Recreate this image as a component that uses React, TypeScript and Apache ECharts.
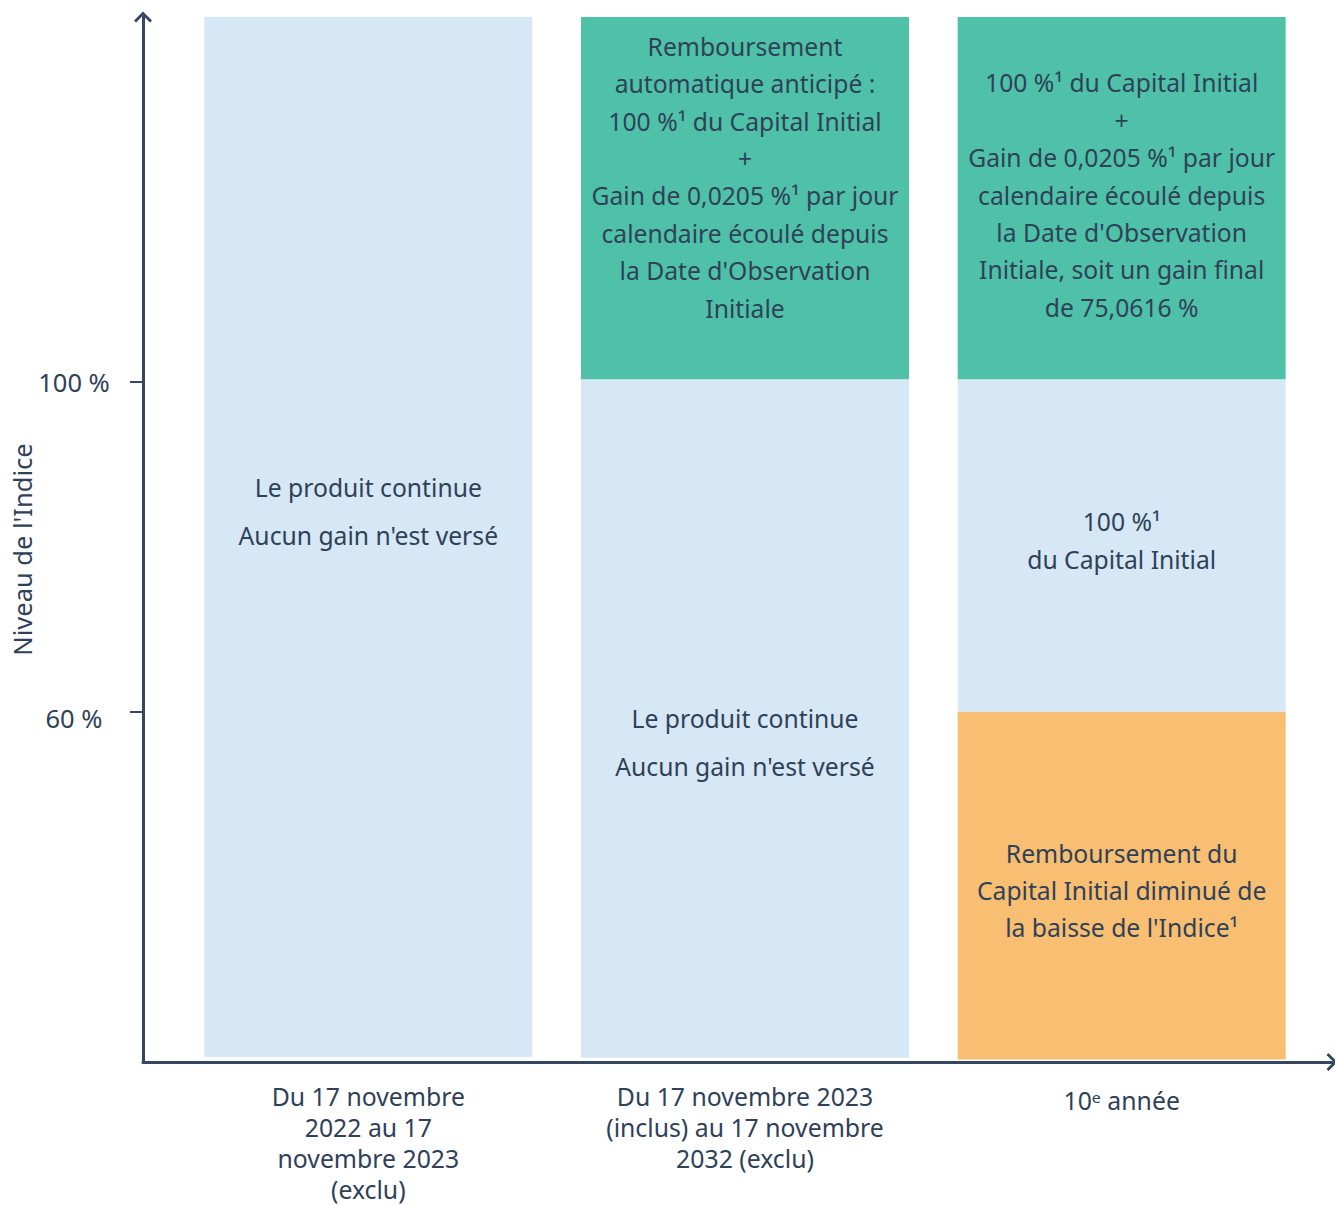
import React, { useEffect, useRef } from 'react';
import * as echarts from 'echarts';

// ---- data ----
const categories: string[] = [
  'Du 17 novembre\n2022 au 17\nnovembre 2023\n(exclu)',
  'Du 17 novembre 2023\n(inclus) au 17 novembre\n2032 (exclu)',
  '10ᵉ année',
];
const yTickValues: number[] = [60, 100];
const yTickLabels: string[] = ['60 %', '100 %'];
// stacked segment heights (index level, %)
const baseValues: (number | null)[] = [18.2, 18.1, 17.9];
const lossValues: (number | null)[] = [null, null, 42.1];
const capitalValues: (number | null)[] = [126.0, 82.2, 40.3];
const gainValues: (number | null)[] = [null, 43.9, 43.9];

const capitalLabels: string[] = [
  "Le produit continue\nAucun gain n'est versé",
  "Le produit continue\nAucun gain n'est versé",
  '100 %¹\ndu Capital Initial',
];
const gainLabels: string[] = [
  '',
  "Remboursement\nautomatique anticipé :\n100 %¹ du Capital Initial\n+\nGain de 0,0205 %¹ par jour\ncalendaire écoulé depuis\nla Date d'Observation\nInitiale",
  "100 %¹ du Capital Initial\n+\nGain de 0,0205 %¹ par jour\ncalendaire écoulé depuis\nla Date d'Observation\nInitiale, soit un gain final\nde 75,0616 %",
];
const lossLabels: string[] = [
  '',
  '',
  "Remboursement du\nCapital Initial diminué de\nla baisse de l'Indice¹",
];

// ---- style ----
const FONT = '"Noto Sans", "Open Sans", sans-serif';
const TEXT = '#2f4159';
const AXIS = '#34475e';
const BLUE = '#d6e7f5';
const GREEN = '#4fc1a8';
const ORANGE = '#f8be71';
const Y_MIN = 17.6;
const Y_MAX = 144.2;
const CHEVRON = 'path://M0,9 L9,0 L18,9 L16,11 L9,4 L2,11 Z';
const BAR_FONT = 24.7;

const capitalOffsets = [-26, 23.5, -5];
const capitalLineHeights = [48, 48, 38];
const gainOffsets = [0, -21, -3];
const lossOffsets = [0, 0, 4.5];

function labelled(values: (number | null)[], texts: string[], offsets: number[], lineHeights: number[]) {
  return values.map((v, i) => {
    if (v == null) return '-';
    if (!texts[i]) return { value: v, label: { show: false } };
    return {
      value: v,
      label: {
        show: true,
        position: 'inside',
        offset: [0, offsets[i]],
        formatter: texts[i],
        color: TEXT,
        fontFamily: FONT,
        fontSize: BAR_FONT,
        lineHeight: lineHeights[i],
        align: 'center',
      },
    };
  });
}

export default function App() {
  const ref = useRef<HTMLDivElement>(null);
  useEffect(() => {
    if (!ref.current) return;
    const chart = echarts.init(ref.current, undefined, { renderer: 'svg' });
    const option: any = {
      animation: false,
      backgroundColor: '#ffffff',
      grid: [
        { left: 143, right: 3, top: 17, bottom: 143, outerBoundsMode: 'none', containLabel: false },
        { left: 180, right: 25, top: 17, bottom: 143, outerBoundsMode: 'none', containLabel: false },
      ],
      xAxis: [
        {
          type: 'value',
          gridIndex: 0,
          min: 0,
          max: 1,
          axisLine: {
            show: true,
            onZero: false,
            symbol: ['none', CHEVRON],
            symbolSize: [18, 11],
            lineStyle: { color: AXIS, width: 3 },
          },
          axisTick: { show: false },
          axisLabel: { show: false },
          splitLine: { show: false },
        },
        {
          type: 'category',
          gridIndex: 1,
          data: categories,
          axisLine: { show: false },
          axisTick: { show: false },
          axisLabel: {
            interval: 0,
            margin: 18,
            color: TEXT,
            fontFamily: FONT,
            fontSize: 24.8,
            lineHeight: 31,
            verticalAlign: 'top',
            formatter: (v: string, i: number) => (i === 2 ? '{s|' + v + '}' : v),
            rich: {
              s: {
                color: TEXT,
                fontFamily: FONT,
                fontSize: 24.8,
                lineHeight: 31,
                padding: [8, 0, 0, 0],
              },
            },
          },
        },
      ],
      yAxis: [
        {
          type: 'value',
          gridIndex: 0,
          min: Y_MIN,
          max: Y_MAX,
          name: "Niveau de l'Indice",
          nameLocation: 'middle',
          nameGap: 108,
          nameMoveOverlap: false,
          nameTextStyle: { color: TEXT, fontFamily: FONT, fontSize: 25.5, padding: [0, 20, 0, 0] },
          axisLine: {
            show: true,
            onZero: false,
            symbol: ['none', CHEVRON],
            symbolSize: [18, 11],
            lineStyle: { color: AXIS, width: 3 },
          },
          axisTick: {
            show: true,
            length: 13,
            customValues: yTickValues,
            lineStyle: { color: AXIS, width: 2 },
          },
          axisLabel: {
            customValues: yTickValues,
            margin: 69,
            align: 'center',
            formatter: (v: number) => {
              const t = yTickLabels[yTickValues.indexOf(v)] ?? String(v);
              return v === 60 ? '{lo|' + t + '}' : '{hi|' + t + '}';
            },
            rich: {
              hi: { color: TEXT, fontFamily: FONT, fontSize: 25.5 },
              lo: { color: TEXT, fontFamily: FONT, fontSize: 25.5, padding: [12, 0, 0, 0] },
            },
          },
          splitLine: { show: false },
        },
        {
          type: 'value',
          gridIndex: 1,
          min: Y_MIN,
          max: Y_MAX,
          show: false,
          splitLine: { show: false },
        },
      ],
      series: [
        {
          name: 'base',
          type: 'bar',
          stack: 'a',
          xAxisIndex: 1,
          yAxisIndex: 1,
          barWidth: 328,
          itemStyle: { color: 'rgba(0,0,0,0)' },
          silent: true,
          data: baseValues.map((v) => (v == null ? '-' : v)),
        },
        {
          name: 'loss',
          type: 'bar',
          stack: 'a',
          xAxisIndex: 1,
          yAxisIndex: 1,
          barWidth: 328,
          itemStyle: { color: ORANGE },
          data: labelled(lossValues, lossLabels, lossOffsets, [37, 37, 37]),
        },
        {
          name: 'capital',
          type: 'bar',
          stack: 'a',
          xAxisIndex: 1,
          yAxisIndex: 1,
          barWidth: 328,
          itemStyle: { color: BLUE },
          data: labelled(capitalValues, capitalLabels, capitalOffsets, capitalLineHeights),
        },
        {
          name: 'gain',
          type: 'bar',
          stack: 'a',
          xAxisIndex: 1,
          yAxisIndex: 1,
          barWidth: 328,
          itemStyle: { color: GREEN },
          data: labelled(gainValues, gainLabels, gainOffsets, [37.4, 37.4, 37.4]),
        },
      ],
    };
    chart.setOption(option);
    return () => chart.dispose();
  }, []);
  return <div ref={ref} style={{ width: 1335, height: 1205, position: 'absolute', left: 0, top: 0 }} />;
}
